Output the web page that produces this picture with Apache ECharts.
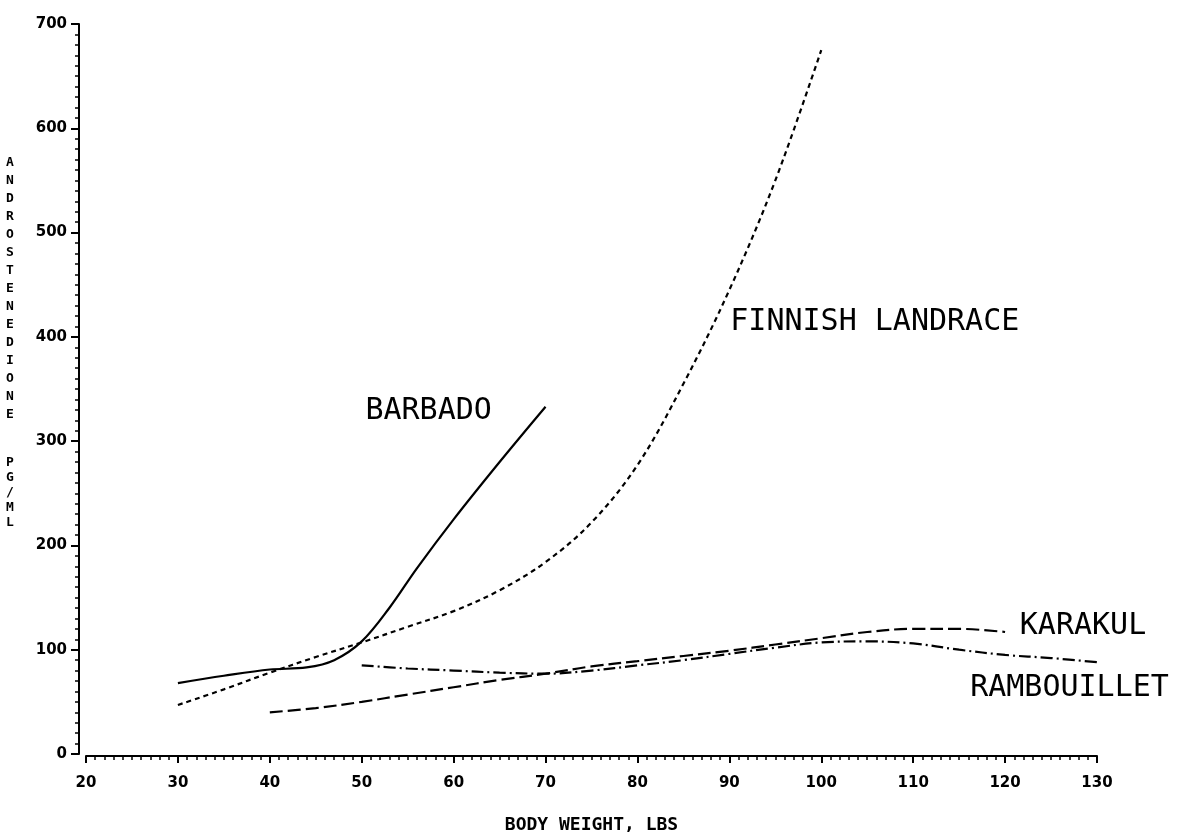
<!DOCTYPE html>
<html>
<head>
<meta charset="utf-8">
<script src="https://cdn.jsdelivr.net/npm/echarts@6/dist/echarts.min.js"></script>
<style>
html, body { margin: 0; padding: 0; background: #fff; }
#main { width: 1186px; height: 839px; }
</style>
</head>
<body>
<div id="main"></div>
<script>
// 各品种曲线数据 (体重 lbs, 雄烯二酮 pg/ml)
var barbadoX = [30, 35, 40, 44, 47, 50, 53, 56, 60, 65, 70];
var barbadoY = [68, 75, 81, 83, 90, 108, 140, 178, 225, 280, 333];

var finnishX = [30, 35, 40, 45, 50, 55, 60, 65, 70, 75, 80, 85, 90, 95, 100];
var finnishY = [47, 62, 78, 93, 107, 122, 137, 157, 184, 222, 277, 355, 445, 550, 675];

var karakulX = [40, 45, 50, 55, 60, 65, 70, 75, 80, 85, 90, 95, 100, 105, 110, 115, 120];
var karakulY = [40, 44, 50, 57, 64, 71, 77, 84, 89, 94, 99, 105, 111, 117, 120, 120, 117];

var rambX = [50, 55, 60, 65, 70, 75, 80, 85, 90, 95, 100, 105, 110, 115, 120, 125, 130];
var rambY = [85, 82, 80, 78, 77, 80, 85, 90, 96, 102, 107, 108, 106, 100, 95, 92, 88];

// 曲线标注文字及其位置(数据坐标)
var labelNames = ['BARBADO', 'FINNISH LANDRACE', 'KARAKUL', 'RAMBOUILLET'];
var labelX = [50.4, 90.1, 121.6, 116.2];
var labelY = [329, 414, 123, 63];

var xTicks = [20, 30, 40, 50, 60, 70, 80, 90, 100, 110, 120, 130];
var yTicks = [0, 100, 200, 300, 400, 500, 600, 700];

var pairs = function(xs, ys) {
    var out = [];
    for (var i = 0; i < xs.length; i++) {
        out.push([xs[i], ys[i]]);
    }
    return out;
};

var labelPoint = function(i) {
    return {
        coord: [labelX[i], labelY[i]],
        symbol: 'circle',
        symbolSize: 0,
        label: {
            show: true,
            position: 'right',
            distance: 0,
            formatter: labelNames[i],
            color: '#000',
            fontFamily: 'DejaVu Sans Mono',
            fontSize: 30
        }
    };
};

var lineSeries = function(name, xs, ys, dash, idx) {
    return {
        name: name,
        type: 'line',
        data: pairs(xs, ys),
        smooth: 0.35,
        showSymbol: false,
        symbol: 'none',
        silent: true,
        lineStyle: {
            color: '#000',
            width: 2.2,
            type: dash
        },
        markPoint: {
            silent: true,
            data: [labelPoint(idx)]
        }
    };
};

var chart = echarts.init(document.getElementById('main'));

var option = {
    backgroundColor: '#fff',
    animation: false,
    grid: {
        left: 86,
        right: 89,
        top: 24,
        bottom: 77,
        containLabel: false
    },
    xAxis: {
        type: 'value',
        min: xTicks[0],
        max: xTicks[xTicks.length - 1],
        interval: 10,
        offset: 2,
        name: 'BODY WEIGHT, LBS',
        nameLocation: 'middle',
        nameGap: 60,
        nameTextStyle: {
            color: '#000',
            fontFamily: 'DejaVu Sans Mono',
            fontWeight: 'bold',
            fontSize: 18
        },
        axisLine: { onZero: false, lineStyle: { color: '#000', width: 2 } },
        axisTick: { show: true, length: 7, lineStyle: { color: '#000', width: 2 } },
        minorTick: { show: true, splitNumber: 10, length: 4, lineStyle: { color: '#000', width: 1.5 } },
        splitLine: { show: false },
        axisLabel: {
            margin: 20,
            color: '#000',
            fontFamily: 'DejaVu Sans',
            fontWeight: 'bold',
            fontSize: 15
        }
    },
    yAxis: {
        type: 'value',
        min: yTicks[0],
        max: yTicks[yTicks.length - 1],
        interval: 100,
        offset: 7,
        axisLine: { show: true, onZero: false, lineStyle: { color: '#000', width: 2 } },
        axisTick: { show: true, length: 8, lineStyle: { color: '#000', width: 2 } },
        minorTick: { show: true, splitNumber: 10, length: 4, lineStyle: { color: '#000', width: 1.5 } },
        splitLine: { show: false },
        axisLabel: {
            margin: 12,
            color: '#000',
            fontFamily: 'DejaVu Sans',
            fontWeight: 'bold',
            fontSize: 15
        }
    },
    graphic: [{
        type: 'text',
        left: 6,
        top: 154,
        style: {
            text: 'A\nN\nD\nR\nO\nS\nT\nE\nN\nE\nD\nI\nO\nN\nE',
            fill: '#000',
            font: 'bold 13px "DejaVu Sans Mono"',
            lineHeight: 18,
            align: 'left'
        }
    }, {
        type: 'text',
        left: 6,
        top: 455,
        style: {
            text: 'P\nG\n/\nM\nL',
            fill: '#000',
            font: 'bold 13px "DejaVu Sans Mono"',
            lineHeight: 15,
            align: 'left'
        }
    }],
    series: [
        lineSeries('BARBADO', barbadoX, barbadoY, 'solid', 0),
        lineSeries('FINNISH LANDRACE', finnishX, finnishY, [5, 4], 1),
        lineSeries('KARAKUL', karakulX, karakulY, [13, 5], 2),
        lineSeries('RAMBOUILLET', rambX, rambY, [12, 4, 2, 4], 3)
    ]
};

chart.setOption(option);

window.addEventListener('resize', function() {
    chart.resize();
});
</script>
</body>
</html>
